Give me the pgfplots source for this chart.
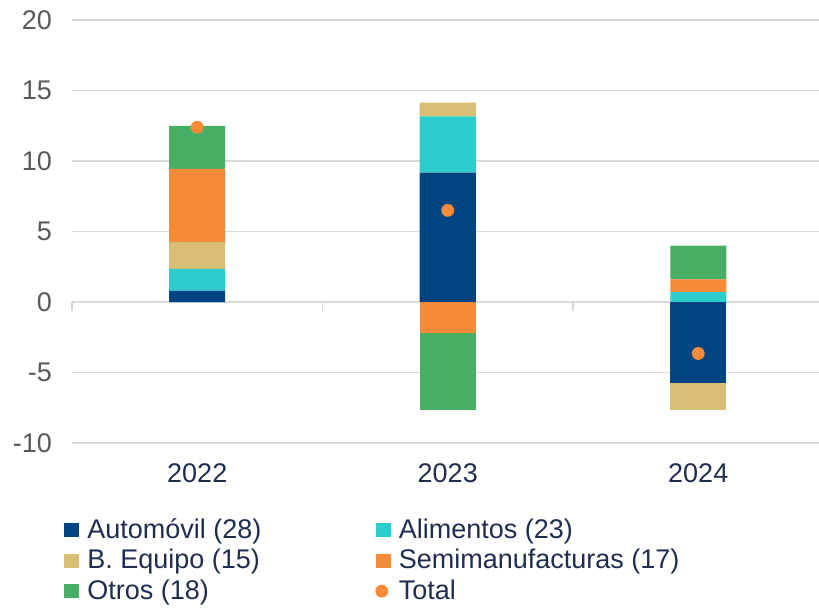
\documentclass[border=0pt]{standalone}
\usepackage{fontspec}
\setmainfont{Liberation Sans}
\usepackage{pgfplots}
\usepackage{pgfplotstable}
\pgfplotsset{compat=1.18}

\definecolor{cAuto}{HTML}{004481}
\definecolor{cAlim}{HTML}{2DCCCD}
\definecolor{cBeq}{HTML}{D8BE75}
\definecolor{cSemi}{HTML}{F78B3A}
\definecolor{cOtros}{HTML}{48AE64}
\definecolor{cGrid}{HTML}{D9D9D9}
\definecolor{cTick}{HTML}{595959}
\definecolor{cLeg}{HTML}{1F2D4F}

% positive contributions (stacked upward)
\pgfplotstableread{
x auto alim beq semi otros
0 0.80 1.55 1.90 5.20 3.05
1 9.17 4.00 0.97 0    0
2 0    0.70 0    0.90 2.40
}\pos
% negative contributions (stacked downward)
\pgfplotstableread{
x auto alim beq semi otros
0 0     0 0     0     0
1 0     0 0     -2.20 -5.45
2 -5.75 0 -1.90 0     0
}\neg
\pgfplotstableread{
x total
0 12.4
1 6.5
2 -3.65
}\tot

\pgfplotsset{
  base/.style={
    width=375.75pt, height=211.5pt, scale only axis,
    at={(0,0)}, anchor=south west,
    xmin=-0.5, xmax=2.5, ymin=-10, ymax=20,
  },
  sq/.style={legend image code/.code={\fill[##1] (0pt,-3.5pt) rectangle (7.5pt,3.5pt);}},
}

\begin{document}
\begin{tikzpicture}
\path[use as bounding box] (-36pt,-82pt) rectangle (373.5pt,221.5pt);

\begin{axis}[base,
  ybar stacked, bar width=28pt,
  axis line style={draw=none}, major tick length=0pt,
  xtick={0,1,2}, xticklabels={2022,2023,2024},
  ytick={-10,-5,...,20},
  ymajorgrids, grid style={cGrid, line width=0.8pt},
  tick label style={font=\fontsize{13.5}{16}\selectfont},
  yticklabel style={text=cTick, xshift=-6.5pt},
  xticklabel style={text=cLeg, yshift=-7pt},
  /pgf/number format/assume math mode=true,
  legend columns=2, legend cell align=left,
  legend style={draw=none, fill=none, at={(axis description cs:0,0)},
    anchor=north west, xshift=-4pt, yshift=-35.5pt, inner sep=0pt,
    font=\fontsize{13.5}{16}\selectfont, text=cLeg, row sep=0pt,
    /tikz/every odd column/.append style={column sep=2pt}},
  clip=false,
]
\addplot[sq, fill=cAuto, draw=none] table[x=x, y=auto] {\pos};
\addlegendentry{\makebox[142pt][l]{Automóvil (28)}}
\addplot[sq, fill=cAlim, draw=none] table[x=x, y=alim] {\pos};
\addlegendentry{Alimentos (23)}
\addplot[sq, fill=cBeq, draw=none] table[x=x, y=beq] {\pos};
\addlegendentry{\makebox[142pt][l]{B. Equipo (15)}}
\addplot[sq, fill=cSemi, draw=none] table[x=x, y=semi] {\pos};
\addlegendentry{Semimanufacturas (17)}
\addplot[sq, fill=cOtros, draw=none] table[x=x, y=otros] {\pos};
\addlegendentry{\makebox[142pt][l]{Otros (18)}}
\addlegendimage{legend image code/.code={\fill[cSemi] (3pt,0pt) circle (3pt);}}
\addlegendentry{Total}

% small category separators below the zero line
\draw[cGrid, line width=0.8pt] (axis cs:-0.5,0) -- ++(0pt,-4.5pt);
\draw[cGrid, line width=0.8pt] (axis cs:0.5,0) -- ++(0pt,-4.5pt);
\draw[cGrid, line width=0.8pt] (axis cs:1.5,0) -- ++(0pt,-4.5pt);
\end{axis}

\begin{axis}[base, ybar stacked, bar width=28pt, hide axis]
\addplot[fill=cAuto, draw=none] table[x=x, y=auto] {\neg};
\addplot[fill=cAlim, draw=none] table[x=x, y=alim] {\neg};
\addplot[fill=cBeq, draw=none] table[x=x, y=beq] {\neg};
\addplot[fill=cSemi, draw=none] table[x=x, y=semi] {\neg};
\addplot[fill=cOtros, draw=none] table[x=x, y=otros] {\neg};
\end{axis}

\begin{axis}[base, hide axis, clip=false]
\addplot[only marks, mark=*, mark size=3pt, color=cSemi] table[x=x, y=total] {\tot};
\end{axis}
\end{tikzpicture}
\end{document}
